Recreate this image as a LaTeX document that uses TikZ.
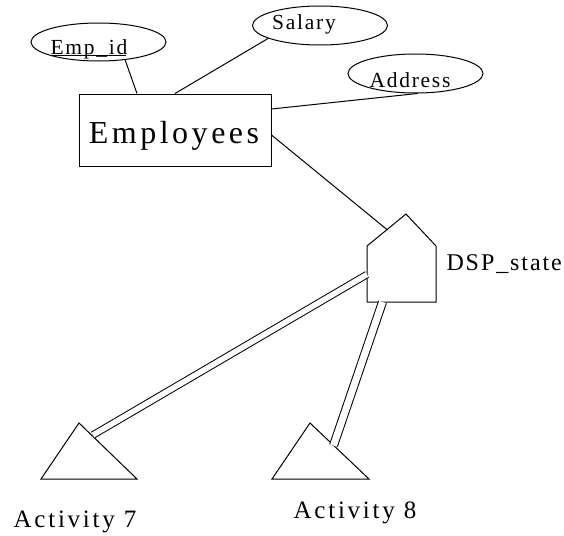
\documentclass[tikz,border=0pt]{standalone}
\usepackage{fontspec}
\setmainfont{Liberation Serif}
\newfontfamily\erfont[LetterSpace=8]{Liberation Serif}
\newfontfamily\erwide[LetterSpace=11]{Liberation Serif}
\usetikzlibrary{shapes.geometric}
\begin{document}
\begin{tikzpicture}[x=1pt,y=-1pt,
  line width=1pt,
  attr/.style={ellipse,draw,minimum width=135pt,minimum height=38pt,inner sep=0pt},
  entity/.style={rectangle,draw,minimum width=192pt,minimum height=72pt,inner sep=0pt},
  lbl/.style={anchor=base,inner sep=0pt,font=\erfont\fontsize{21.5}{21.5}\selectfont},
  biglbl/.style={anchor=base,inner sep=0pt,font=\erwide\fontsize{25}{25}\selectfont},
  total/.style={double,double distance=#1},
]
\useasboundingbox (0,0) rectangle (564,535);

% entity and its attributes
\node[entity] (emp) at (175,130) {};
\node[anchor=base,inner sep=0pt,font=\erwide\fontsize{32}{32}\selectfont] (emptext) at (174,143) {Employees};

\node[attr] (empid) at (98.5,42) {};
\node[lbl] (empidtext) at (89,54) {Emp\_id};
\draw[line width=0.9pt] ([yshift=-1pt]empidtext.base west) -- ([yshift=-1pt,xshift=-2pt]empidtext.base east);

\node[attr,minimum height=39pt] (salary) at (320,25.5) {};
\node[lbl] (salarytext) at (304,30) {Salary};

\node[attr,minimum height=39pt] (address) at (415.5,73.5) {};
\node[lbl] (addresstext) at (410,87) {Address};

\draw (empid.-34) -- ([xshift=-38pt]emp.north);
\draw (salary.194.6) -- (emp.north);
\draw (address.-84) -- ([yshift=21pt]emp.east);

% the state (house) symbol
\draw (367,246) -- (406,214) -- (436,246) -- (436,302) -- (367,302) -- cycle;
\coordinate (roof) at (387.5,230);
\coordinate (hleft) at (367,274.5);
\coordinate (hbottom) at (382.5,302);
\node[anchor=base west,inner sep=0pt,font=\erfont\fontsize{24}{24}\selectfont] (dsp) at (446,270) {DSP\_state};

\draw ([yshift=-5pt]emp.east) -- (roof);

% activities
\draw (79,423) -- (137,479) -- (41,479) -- cycle;
\draw (310,423) -- (369,479) -- (272,479) -- cycle;
\coordinate (a7) at (93,435);
\coordinate (a8) at (333.5,445.5);
\node[biglbl] (act7) at (75,527) {Activity 7};
\node[biglbl] (act8) at (355,518) {Activity 8};

\draw[total=5.5pt] (hleft) -- (a7);
\draw[total=7pt] (hbottom) -- (a8);
\end{tikzpicture}
\end{document}
